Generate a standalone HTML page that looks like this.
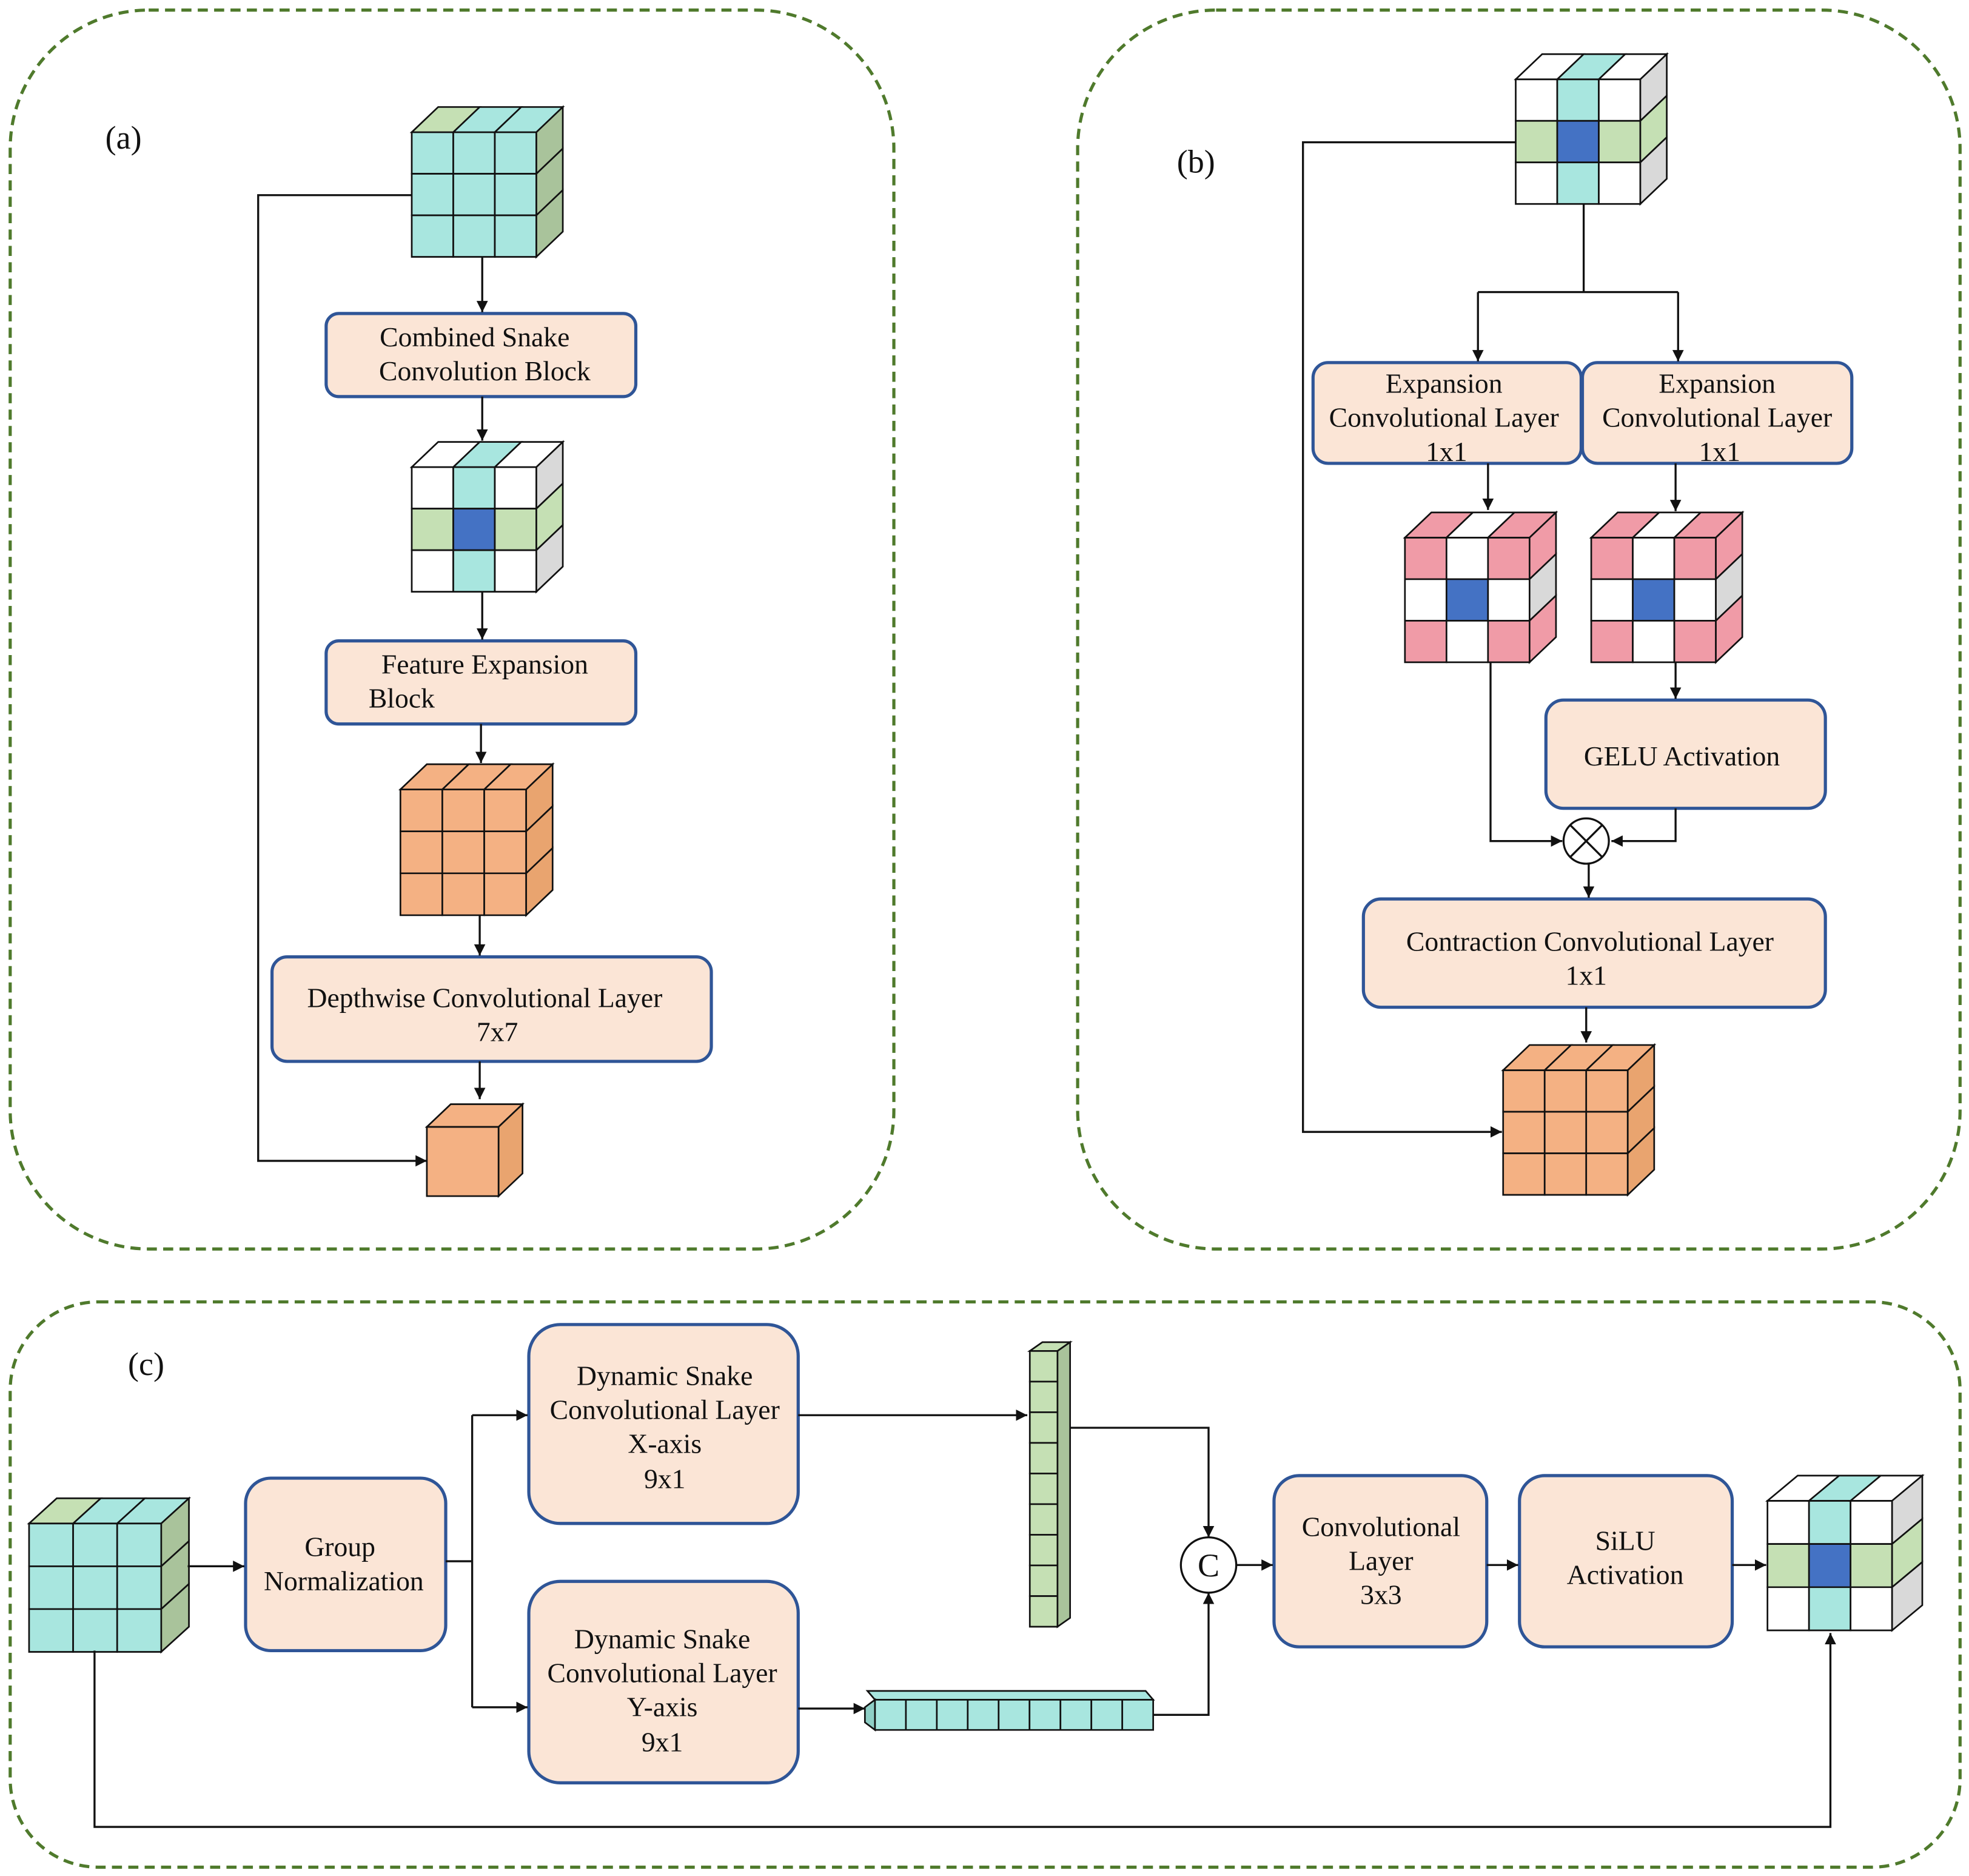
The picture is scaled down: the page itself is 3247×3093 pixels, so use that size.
<!DOCTYPE html>
<html><head><meta charset="utf-8"><style>
html,body{margin:0;padding:0;background:#fff;}
svg{display:block;}
text{font-family:"Liberation Serif",serif;fill:#111;}
</style></head><body>
<svg id="s" width="3247" height="3093" viewBox="0 0 1564 1490" xmlns="http://www.w3.org/2000/svg">
<defs><marker id="ar" viewBox="0 0 10 10" refX="10" refY="5" markerWidth="9" markerHeight="9" markerUnits="userSpaceOnUse" orient="auto"><path d="M0,0L10,5L0,10z" fill="#111"/></marker></defs>
<g fill="none" stroke="#4f7a2c" stroke-width="2.5" stroke-dasharray="8,5">
<rect x="8" y="8" width="702" height="984" rx="110"/>
<rect x="856" y="8" width="701" height="984" rx="110"/>
<rect x="8" y="1034" width="1549" height="449" rx="70"/>
</g>
<g fill="#fbe5d6" stroke="#2f5597" stroke-width="2.5">
<rect x="259" y="249" width="246" height="66" rx="10"/>
<rect x="259" y="509" width="246" height="66" rx="10"/>
<rect x="216" y="760" width="349" height="83" rx="12"/>
<rect x="1043" y="288" width="213" height="80" rx="12"/>
<rect x="1257" y="288" width="214" height="80" rx="12"/>
<rect x="1228" y="556" width="222" height="86" rx="14"/>
<rect x="1083" y="714" width="367" height="86" rx="14"/>
<rect x="195" y="1174" width="159" height="137" rx="20"/>
<rect x="420" y="1052" width="214" height="158" rx="25"/>
<rect x="420" y="1256" width="214" height="160" rx="25"/>
<rect x="1012" y="1172" width="169" height="136" rx="20"/>
<rect x="1207" y="1172" width="169" height="136" rx="20"/>
</g>
<g id="cubes"></g>
<g fill="none" stroke="#111" stroke-width="1.6">
<path d="M383,204V248" marker-end="url(#ar)"/>
<path d="M383,315V350" marker-end="url(#ar)"/>
<path d="M383,470V508" marker-end="url(#ar)"/>
<path d="M382,575V606" marker-end="url(#ar)"/>
<path d="M381,727V759" marker-end="url(#ar)"/>
<path d="M381,843V873" marker-end="url(#ar)"/>
<path d="M327,155H205V922H339" marker-end="url(#ar)"/>
<path d="M1258,162V232"/>
<path d="M1174,232H1333"/>
<path d="M1174,232V287" marker-end="url(#ar)"/>
<path d="M1333,232V287" marker-end="url(#ar)"/>
<path d="M1182,368V405" marker-end="url(#ar)"/>
<path d="M1331,368V406" marker-end="url(#ar)"/>
<path d="M1184,526V668H1241" marker-end="url(#ar)"/>
<path d="M1331,526V555" marker-end="url(#ar)"/>
<path d="M1331,642V668H1280" marker-end="url(#ar)"/>
<path d="M1262,686V713" marker-end="url(#ar)"/>
<path d="M1260,800V828" marker-end="url(#ar)"/>
<path d="M1204,113H1035V899H1193" marker-end="url(#ar)"/>
<path d="M149,1244H194" marker-end="url(#ar)"/>
<path d="M354,1240H375"/>
<path d="M375,1124V1356"/>
<path d="M375,1124H419" marker-end="url(#ar)"/>
<path d="M375,1356H419" marker-end="url(#ar)"/>
<path d="M634,1124H816" marker-end="url(#ar)"/>
<path d="M850,1134H960V1221" marker-end="url(#ar)"/>
<path d="M634,1357H687" marker-end="url(#ar)"/>
<path d="M916,1362H960V1265" marker-end="url(#ar)"/>
<path d="M982,1243H1011" marker-end="url(#ar)"/>
<path d="M1181,1243H1206" marker-end="url(#ar)"/>
<path d="M1376,1243H1403" marker-end="url(#ar)"/>
<path d="M75,1311V1451H1454V1297" marker-end="url(#ar)"/>
</g>
<circle cx="1260" cy="668" r="18" fill="#fff" stroke="#111" stroke-width="1.6"/>
<path d="M1247,655L1273,681M1273,655L1247,681" stroke="#111" stroke-width="1.6"/>
<circle cx="960" cy="1243" r="22" fill="#fff" stroke="#111" stroke-width="1.6"/>
<text x="960" y="1252" font-size="26" text-anchor="middle">C</text>
<g font-size="22" text-anchor="middle">
<text x="98" y="118" font-size="26">(a)</text>
<text x="950" y="137" font-size="26">(b)</text>
<text x="116" y="1092" font-size="26">(c)</text>
<text x="377" y="275">Combined Snake</text>
<text x="385" y="302">Convolution Block</text>
<text x="385" y="535">Feature Expansion</text>
<text x="319" y="562">Block</text>
<text x="385" y="800">Depthwise Convolutional Layer</text>
<text x="395" y="827">7x7</text>
<text x="1147" y="312">Expansion</text>
<text x="1147" y="339">Convolutional Layer</text>
<text x="1149" y="366">1x1</text>
<text x="1364" y="312">Expansion</text>
<text x="1364" y="339">Convolutional Layer</text>
<text x="1366" y="366">1x1</text>
<text x="1336" y="608">GELU Activation</text>
<text x="1263" y="755">Contraction Convolutional Layer</text>
<text x="1260" y="782">1x1</text>
<text x="270" y="1236">Group</text>
<text x="273" y="1263">Normalization</text>
<text x="528" y="1100">Dynamic Snake</text>
<text x="528" y="1127">Convolutional Layer</text>
<text x="528" y="1154">X-axis</text>
<text x="528" y="1182">9x1</text>
<text x="526" y="1309">Dynamic Snake</text>
<text x="526" y="1336">Convolutional Layer</text>
<text x="526" y="1363">Y-axis</text>
<text x="526" y="1391">9x1</text>
<text x="1097" y="1220">Convolutional</text>
<text x="1097" y="1247">Layer</text>
<text x="1097" y="1274">3x3</text>
<text x="1291" y="1231">SiLU</text>
<text x="1291" y="1258">Activation</text>
</g>
</svg>
<script>
(function(){
var NS="http://www.w3.org/2000/svg",g=document.getElementById("cubes");
function poly(pts,fill){var p=document.createElementNS(NS,"polygon");p.setAttribute("points",pts.map(function(a){return a.join(",")}).join(" "));p.setAttribute("fill",fill);p.setAttribute("stroke","#111");p.setAttribute("stroke-width","1.3");g.appendChild(p);}
var C="#a8e6df",G="#c5e0b4",B="#4472c4",W="#ffffff",P="#f09ba7",O="#f4b183",Y="#d9d9d9",GR="#a9c39b",OR="#e9a46f";
function cube(x,y,cw,ch,dx,dy,front,top,right){
 for(var i=0;i<3;i++)for(var j=0;j<3;j++){var X=x+j*cw,Y2=y+i*ch;poly([[X,Y2],[X+cw,Y2],[X+cw,Y2+ch],[X,Y2+ch]],front[i*3+j]);}
 for(var j=0;j<3;j++){var X=x+j*cw;poly([[X,y],[X+cw,y],[X+cw+dx,y+dy],[X+dx,y+dy]],top[j]);}
 var R=x+3*cw;for(var i=0;i<3;i++){var Y2=y+i*ch;poly([[R,Y2],[R+dx,Y2+dy],[R+dx,Y2+ch+dy],[R,Y2+ch]],right[i]);}
}
var allC=[C,C,C,C,C,C,C,C,C],cross=[W,C,W,G,B,G,W,C,W],pink=[P,W,P,W,B,W,P,W,P],allO=[O,O,O,O,O,O,O,O,O];
cube(327,105,33,33,21,-20,allC,[G,C,C],[GR,GR,GR]);
cube(327,371,33,33,21,-20,cross,[W,C,W],[Y,G,Y]);
cube(318,627,33.3,33.3,21,-20,allO,[O,O,O],[OR,OR,OR]);
// small orange
poly([[339,895],[396,895],[396,950],[339,950]],O);
poly([[339,895],[396,895],[415,877],[358,877]],O);
poly([[396,895],[415,877],[415,932],[396,950]],OR);
cube(1204,63,33,33,21,-20,cross,[W,C,W],[Y,G,Y]);
cube(1116,427,33,33,21,-20,pink,[P,W,P],[P,Y,P]);
cube(1264,427,33,33,21,-20,pink,[P,W,P],[P,Y,P]);
cube(1194,850,33,33,21,-20,allO,[O,O,O],[OR,OR,OR]);
cube(23,1210,35,34,22,-20,allC,[G,C,C],[GR,GR,GR]);
cube(1404,1192,33,34.3,24,-20,cross,[W,C,W],[Y,G,Y]);
// vertical bar
var h=219/9;
poly([[818,1073],[828,1066],[850,1066],[840,1073]],G);
for(var i=0;i<9;i++){var yy=1073+i*h;poly([[818,yy],[840,yy],[840,yy+h],[818,yy+h]],G);}
poly([[840,1073],[850,1066],[850,1285],[840,1292]],GR);
// horizontal bar
var w=(916-695)/9;
poly([[695,1350],[916,1350],[910,1343],[689,1343]],C);
poly([[687,1356],[695,1350],[695,1374],[687,1368]],"#8fcfc6");
for(var i=0;i<9;i++){var xx=695+i*w;poly([[xx,1350],[xx+w,1350],[xx+w,1374],[xx,1374]],C);}
})();
</script>
</body></html>
